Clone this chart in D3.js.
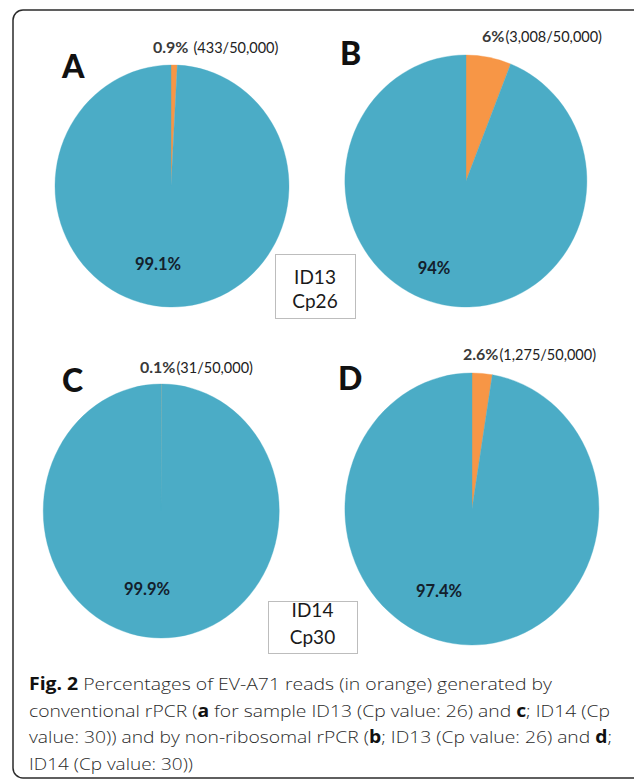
<!DOCTYPE html>
<html>
<head>
<meta charset="utf-8">
<script src="https://cdn.jsdelivr.net/npm/d3@7"></script>
<style>
  html, body { margin: 0; padding: 0; background: #fff; }
  svg { display: block; }
</style>
</head>
<body>
<div id="fig"></div>
<script>
// panel data
const panels = ["A", "B", "C", "D"];
const evReads = [433, 3008, 31, 1275];
const totalReads = 50000;
const evLabels = ["0.9%", "6%", "0.1%", "2.6%"];
const otherLabels = ["99.1%", "94%", "99.9%", "97.4%"];
const countLabels = ["(433/50,000)", "(3,008/50,000)", "(31/50,000)", "(1,275/50,000)"];
const sliceNames = ["EV-A71", "Other"];
const sliceColors = ["#F79646", "#4BACC6"];
const sampleBoxes = [["ID13", "Cp26"], ["ID14", "Cp30"]];

// caption, as [text, bold] runs per line
const captionLines = [
  [["Fig. 2", true], [" Percentages of EV-A71 reads (in orange) generated by", false]],
  [["conventional rPCR (", false], ["a", true], [" for sample ID13 (Cp value: 26) and ", false], ["c", true], ["; ID14 (Cp", false]],
  [["value: 30)) and by non-ribosomal rPCR (", false], ["b", true], ["; ID13 (Cp value: 26) and ", false], ["d", true], [";", false]],
  [["ID14 (Cp value: 30))", false]],
];

const W = 634, H = 780;

// where each pie sits (Excel-ish stretched ellipses)
const layout = [
  { cx: 171, cy: 186, rx: 117, ry: 121, letter: [62, 78], top: [153, 53], gap: 5, inner: [158, 270] },
  { cx: 466, cy: 181, rx: 121, ry: 126, letter: [340, 65], top: [482, 42], gap: 1, inner: [434, 274] },
  { cx: 161, cy: 511, rx: 118, ry: 127, letter: [62, 392], top: [140, 373], gap: 1, inner: [147, 595] },
  { cx: 472, cy: 509, rx: 127, ry: 136, letter: [338, 390], top: [463, 360], gap: 1, inner: [439, 597] },
];
const boxLayout = [
  { x: 275, y: 254, w: 80, h: 64, lines: [284, 308] },
  { x: 268, y: 601, w: 89, h: 52, lines: [617, 644] },
];
const captionLayout = { x: 29, baselines: [690, 717, 743, 770], widths: [523, 581, 583, 164] };

const svg = d3.select("#fig").append("svg")
  .attr("width", W)
  .attr("height", H);

// outer frame (runs off the right edge like the scan)
svg.append("rect")
  .attr("x", 13).attr("y", 10)
  .attr("width", 660).attr("height", 768)
  .attr("rx", 10).attr("ry", 10)
  .attr("fill", "none")
  .attr("stroke", "#2b2b2b")
  .attr("stroke-width", 1.5);

const color = d3.scaleOrdinal(sliceNames, sliceColors);
const pie = d3.pie().sort(null).value(d => d.value);
const arc = d3.arc().innerRadius(0).outerRadius(1);

const labelFont = "Lato, 'Open Sans', sans-serif";

panels.forEach(function (p, i) {
  const L = layout[i];
  const data = [
    { name: sliceNames[0], value: evReads[i] },
    { name: sliceNames[1], value: totalReads - evReads[i] },
  ];

  const g = svg.append("g")
    .attr("transform", "translate(" + L.cx + "," + L.cy + ") scale(" + L.rx + "," + L.ry + ")");

  g.selectAll("path")
    .data(pie(data))
    .enter()
    .append("path")
    .attr("d", arc)
    .attr("fill", d => color(d.data.name))
    .attr("stroke", d => color(d.data.name))
    .attr("stroke-width", 0.003);

  // panel letter
  svg.append("text")
    .attr("x", L.letter[0]).attr("y", L.letter[1])
    .attr("font-family", labelFont)
    .attr("font-weight", 900)
    .attr("font-size", 32)
    .attr("fill", "#111")
    .text(p);

  // EV-A71 share above the pie
  const t = svg.append("text")
    .attr("x", L.top[0]).attr("y", L.top[1])
    .attr("font-family", labelFont)
    .attr("fill", "#222");
  t.append("tspan")
    .attr("font-weight", 700)
    .attr("font-size", 16)
    .attr("fill", "#3a3a3a")
    .text(evLabels[i]);
  t.append("tspan")
    .attr("dx", L.gap)
    .attr("font-size", 14.5)
    .text(countLabels[i]);

  // remaining share inside the pie
  svg.append("text")
    .attr("x", L.inner[0]).attr("y", L.inner[1])
    .attr("text-anchor", "middle")
    .attr("font-family", labelFont)
    .attr("font-weight", 700)
    .attr("font-size", 16.5)
    .attr("fill", "#13202c")
    .text(otherLabels[i]);
});

// sample boxes
sampleBoxes.forEach(function (lines, i) {
  const B = boxLayout[i];
  svg.append("rect")
    .attr("x", B.x + 0.5).attr("y", B.y + 0.5)
    .attr("width", B.w).attr("height", B.h)
    .attr("fill", "#fff")
    .attr("stroke", "#bdbdbd")
    .attr("stroke-width", 1);
  lines.forEach(function (s, j) {
    svg.append("text")
      .attr("x", B.x + B.w / 2).attr("y", B.lines[j])
      .attr("text-anchor", "middle")
      .attr("font-family", labelFont)
      .attr("font-size", 19)
      .attr("fill", "#1a1a1a")
      .text(s);
  });
});

// caption
captionLines.forEach(function (runs, i) {
  const t = svg.append("text")
    .attr("x", captionLayout.x)
    .attr("y", captionLayout.baselines[i])
    .attr("font-family", "'Open Sans', sans-serif")
    .attr("font-size", 17)
    .attr("font-weight", 300)
    .attr("fill", "#2a2a2a")
    .attr("textLength", captionLayout.widths[i])
    .attr("lengthAdjust", "spacingAndGlyphs")
    .style("white-space", "pre");
  runs.forEach(function (r) {
    t.append("tspan")
      .attr("font-weight", r[1] ? 700 : 300)
      .attr("fill", r[1] ? "#111" : "#2a2a2a")
      .text(r[0]);
  });
});
</script>
</body>
</html>
